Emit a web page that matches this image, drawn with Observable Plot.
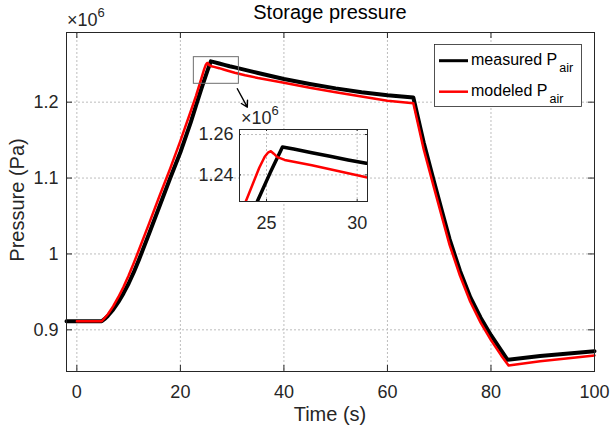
<!DOCTYPE html>
<html><head><meta charset="utf-8">
<script src="https://cdn.jsdelivr.net/npm/d3@7"></script>
<script src="https://cdn.jsdelivr.net/npm/@observablehq/plot@0.6"></script>
<style>
html,body{margin:0;padding:0;background:#fff;}
#wrap{position:relative;width:611px;height:432px;overflow:hidden;background:#fff;}
</style></head><body><div id="wrap"></div>
<script>
// ---- data (pressure in units of 10^6 Pa) ----
const measuredT = [-2, 0, 4.8, 5.5, 6, 7, 8, 9, 10, 11, 12, 14, 16, 18, 20, 22, 23, 24, 24.51, 25.2, 25.88, 26.5, 27.5, 28.5, 29.5, 30.5, 32.5, 35, 37.5, 40, 45, 50, 55, 60, 65, 67, 69, 70.55, 72, 74, 76, 78, 80, 82, 83.2, 89.5, 100];
const measuredP = [0.9113, 0.9113, 0.9113, 0.9150, 0.9185, 0.9265, 0.9365, 0.9480, 0.9610, 0.9760, 0.9925, 1.0275, 1.0635, 1.0995, 1.1340, 1.1735, 1.1950, 1.2165, 1.2272, 1.2410, 1.2538, 1.2528, 1.2510, 1.2492, 1.2474, 1.2458, 1.2425, 1.2385, 1.2345, 1.2305, 1.2240, 1.2182, 1.2132, 1.2092, 1.2062, 1.1470, 1.0950, 1.0560, 1.0195, 0.9780, 0.9430, 0.9160, 0.8930, 0.8725, 0.8605, 0.8655, 0.8718];
const modeledT = [0, 4.8, 6, 7, 8, 9, 10, 11, 12, 14, 16, 18, 20, 22, 23, 24, 24.6, 24.9, 25.1, 25.24, 25.4, 25.6, 26.0, 26.5, 27.5, 28.5, 29.5, 30.5, 32.5, 35, 40, 45, 50, 55, 60, 65, 67, 69, 70.55, 72, 74, 76, 78, 80, 82, 83.4, 89.5, 100];
const modeledP = [0.9113, 0.9113, 0.9205, 0.9310, 0.9430, 0.9565, 0.9715, 0.9880, 1.0055, 1.0410, 1.0770, 1.1120, 1.1490, 1.1880, 1.2080, 1.2300, 1.2435, 1.2490, 1.2512, 1.2517, 1.2505, 1.2488, 1.2474, 1.2465, 1.2448, 1.2428, 1.2408, 1.2388, 1.2355, 1.2318, 1.2255, 1.2190, 1.2132, 1.2075, 1.2020, 1.1987, 1.1380, 1.0870, 1.0480, 1.0120, 0.9715, 0.9370, 0.9095, 0.8865, 0.8660, 0.8531, 0.8587, 0.8662];

const xDomain = [-2, 100];
const yDomain = [0.8451, 1.2918];
const xTicks = [0, 20, 40, 60, 80, 100];
const xTickLabels = ["0", "20", "40", "60", "80", "100"];
const yTicks = [0.9, 1.0, 1.1, 1.2];
const yTickLabels = ["0.9", "1", "1.1", "1.2"];

const insetXDomain = [23.51, 30.57];
const insetYDomain = [1.2268, 1.2625];
const insetXTicks = [25, 30];
const insetXTickLabels = ["25", "30"];
const insetYTicks = [1.24, 1.26];
const insetYTickLabels = ["1.24", "1.26"];

const zoomBox = [{x1: 22.6, x2: 31.3, y1: 1.2242, y2: 1.2593}];
const arrowLink = [{x1: 31.0, y1: 1.2177, x2: 32.93, y2: 1.1934}];

const titleText = "Storage pressure";
const xLabel = "Time (s)";
const yLabel = "Pressure (Pa)";
const exponentText = ["\u00d710", "6"];
const seriesNames = ["measured P", "modeled P"];
const seriesSub = "air";
const seriesColors = ["#000000", "#ff0000"];

// ---- build tables ----
const measured = measuredT.map((t, i) => ({t, p: measuredP[i]}));
const modeled = modeledT.map((t, i) => ({t, p: modeledP[i]}));

const FONT = '"Liberation Sans", Arial, Helvetica, sans-serif';
const INK = "#262626";
const GRID = "#bdbdbd";
const wrap = document.getElementById("wrap");

// ---- main chart ----
const W = 611, H = 432, ML = 66, MR = 17, MT = 32, MB = 61;
const FW = W - ML - MR, FH = H - MT - MB;
const TL = 6;
const main = Plot.plot({
  width: W, height: H,
  marginLeft: ML, marginRight: MR, marginTop: MT, marginBottom: MB,
  style: {fontFamily: FONT, fontSize: "18px", color: INK, background: "transparent"},
  x: {domain: xDomain, ticks: xTicks},
  y: {domain: yDomain, ticks: yTicks},
  marks: [
    Plot.gridX(xTicks, {stroke: GRID, strokeOpacity: 1, strokeDasharray: "2,2"}),
    Plot.gridY(yTicks, {stroke: GRID, strokeOpacity: 1, strokeDasharray: "2,2"}),
    Plot.line(measured, {x: "t", y: "p", stroke: seriesColors[0], strokeWidth: 4, strokeLinejoin: "round"}),
    Plot.line(modeled, {x: "t", y: "p", stroke: seriesColors[1], strokeWidth: 2.5, strokeLinejoin: "round"}),
    Plot.rect(zoomBox, {x1: "x1", x2: "x2", y1: "y1", y2: "y2", fill: "none", stroke: "#6e6e6e", strokeWidth: 1}),
    Plot.arrow(arrowLink, {x1: "x1", y1: "y1", x2: "x2", y2: "y2", stroke: "#000", strokeWidth: 1.4, headLength: 9}),
    Plot.ruleY(yTicks, {insetRight: FW - TL, stroke: INK}),
    Plot.ruleY(yTicks, {insetLeft: FW - TL, stroke: INK}),
    Plot.ruleX(xTicks, {insetTop: FH - TL, stroke: INK}),
    Plot.ruleX(xTicks, {insetBottom: FH - TL, stroke: INK}),
    Plot.frame({stroke: INK, strokeWidth: 1}),
    Plot.axisX({tickSize: 0, tickPadding: 14, fontSize: 18, label: null, tickFormat: d => xTickLabels[xTicks.indexOf(d)]}),
    Plot.axisY({tickSize: 0, tickPadding: 8, fontSize: 18, label: null, tickFormat: d => yTickLabels[yTicks.indexOf(d)]})
  ]
});
main.style.position = "absolute"; main.style.left = "0px"; main.style.top = "0px";
wrap.appendChild(main);

// ---- inset chart ----
const IW = 178, IH = 137, IML = 45, IMR = 5, IMT = 25, IMB = 40;
const IFW = IW - IML - IMR, IFH = IH - IMT - IMB;
const ITL = 2;
const inset = Plot.plot({
  width: IW, height: IH,
  marginLeft: IML, marginRight: IMR, marginTop: IMT, marginBottom: IMB,
  style: {fontFamily: FONT, fontSize: "18px", color: INK, background: "transparent"},
  x: {domain: insetXDomain, ticks: insetXTicks},
  y: {domain: insetYDomain, ticks: insetYTicks},
  marks: [
    Plot.frame({fill: "#fff", stroke: null}),
    Plot.gridX(insetXTicks, {stroke: GRID, strokeOpacity: 1, strokeDasharray: "2,2"}),
    Plot.gridY(insetYTicks, {stroke: GRID, strokeOpacity: 1, strokeDasharray: "2,2"}),
    Plot.line(measured, {x: "t", y: "p", stroke: seriesColors[0], strokeWidth: 3.5, strokeLinejoin: "round", clip: true}),
    Plot.line(modeled, {x: "t", y: "p", stroke: seriesColors[1], strokeWidth: 2.5, strokeLinejoin: "round", clip: true}),
    Plot.ruleY(insetYTicks, {insetRight: IFW - ITL, stroke: INK}),
    Plot.ruleY(insetYTicks, {insetLeft: IFW - ITL, stroke: INK}),
    Plot.ruleX(insetXTicks, {insetTop: IFH - ITL, stroke: INK}),
    Plot.ruleX(insetXTicks, {insetBottom: IFH - ITL, stroke: INK}),
    Plot.frame({stroke: INK, strokeWidth: 1}),
    Plot.axisX({tickSize: 0, tickPadding: 15, fontSize: 18, label: null, tickFormat: d => insetXTickLabels[insetXTicks.indexOf(d)]}),
    Plot.axisY({tickSize: 0, tickPadding: 6, fontSize: 18, label: null, tickFormat: d => insetYTickLabels[insetYTicks.indexOf(d)]})
  ]
});
inset.style.position = "absolute"; inset.style.left = "194px"; inset.style.top = "104px";
wrap.appendChild(inset);

// ---- annotations: title, labels, exponents, legend ----
const ov = d3.create("svg").attr("width", W).attr("height", H)
  .style("position", "absolute").style("left", "0px").style("top", "0px")
  .attr("font-family", FONT).attr("fill", INK);
ov.append("text").attr("x", 330).attr("y", 19).attr("text-anchor", "middle")
  .attr("font-size", 20).attr("fill", "#000").text(titleText);
ov.append("text").attr("x", 330).attr("y", 421).attr("text-anchor", "middle")
  .attr("font-size", 20).text(xLabel);
ov.append("text").attr("transform", "translate(23.5,200) rotate(-90)").attr("text-anchor", "middle")
  .attr("font-size", 20).text(yLabel);
function exponent(x, y) {
  const t = ov.append("text").attr("x", x).attr("y", y).attr("font-size", 18);
  t.append("tspan").text(exponentText[0]);
  t.append("tspan").attr("dy", -9).attr("font-size", 13).text(exponentText[1]);
}
exponent(67, 25.5);
exponent(241, 124);

const lg = ov.append("g");
lg.append("rect").attr("x", 434.5).attr("y", 44.5).attr("width", 147).attr("height", 62)
  .attr("fill", "#fff").attr("stroke", INK).attr("stroke-width", 0.8);
const rowsY = [60.7, 91.7];
seriesNames.forEach((name, i) => {
  lg.append("line").attr("x1", 439).attr("x2", 468).attr("y1", rowsY[i]).attr("y2", rowsY[i])
    .attr("stroke", seriesColors[i]).attr("stroke-width", i === 0 ? 3 : 2.5);
  const t = lg.append("text").attr("x", 471).attr("y", rowsY[i] + 4.5).attr("font-size", 16).attr("fill", "#000");
  t.append("tspan").text(name);
  t.append("tspan").attr("dx", 2).attr("dy", 7).attr("font-size", 12.5).text(seriesSub);
});
wrap.appendChild(ov.node());
</script></body></html>
